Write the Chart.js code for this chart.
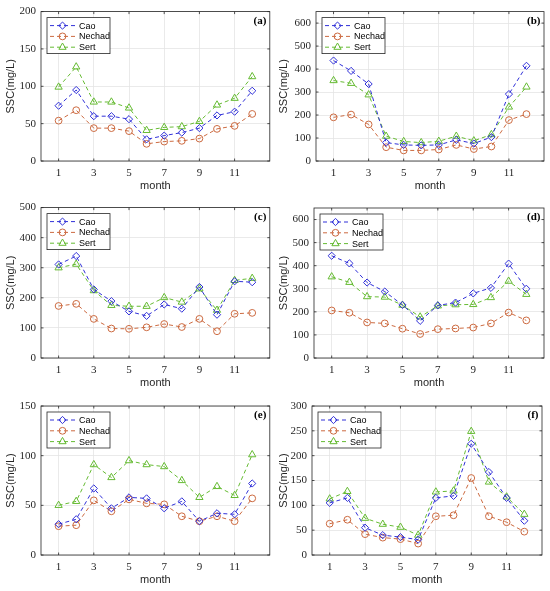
<!DOCTYPE html>
<html>
<head>
<meta charset="utf-8">
<script src="https://cdn.jsdelivr.net/npm/chart.js"></script>
<style>
  html, body { margin: 0; padding: 0; background: #fff; }
  #wrap { position: relative; width: 550px; height: 591px; }
  .panel { position: absolute; }
</style>
</head>
<body>
<div id="wrap"></div>
<script>
// ---- data ----
const months = [1, 2, 3, 4, 5, 6, 7, 8, 9, 10, 11, 12];
const xTicks = [1, 3, 5, 7, 9, 11];
const seriesNames = ["Cao", "Nechad", "Sert"];
const panelLabels = ["(a)", "(b)", "(c)", "(d)", "(e)", "(f)"];

const yTicksA = [0, 50, 100, 150, 200];
const yTicksB = [0, 100, 200, 300, 400, 500, 600];
const yTicksC = [0, 100, 200, 300, 400, 500];
const yTicksD = [0, 100, 200, 300, 400, 500, 600];
const yTicksE = [0, 50, 100, 150];
const yTicksF = [0, 50, 100, 150, 200, 250, 300];
const yMax = [200, 650, 500, 650, 150, 300];

const caoA    = [74, 95, 60, 60, 56, 29, 34, 38, 44, 61, 66, 94];
const nechadA = [54, 68, 44, 44, 40, 23, 26, 27, 30, 43, 47, 63];
const sertA   = [99, 126, 79, 79, 71, 41, 45, 46, 53, 75, 84, 113];

const caoB    = [437, 392, 335, 80, 70, 68, 70, 92, 76, 104, 291, 414];
const nechadB = [190, 202, 159, 60, 46, 46, 50, 70, 52, 63, 178, 204];
const sertB   = [350, 338, 288, 108, 85, 80, 86, 108, 88, 115, 235, 322];

const caoC    = [311, 339, 228, 189, 155, 140, 178, 164, 236, 144, 255, 252];
const nechadC = [173, 180, 130, 98, 97, 102, 113, 103, 130, 89, 147, 150];
const sertC   = [300, 312, 224, 175, 172, 172, 201, 186, 230, 159, 258, 265];

const caoD    = [443, 410, 327, 288, 230, 161, 228, 240, 280, 304, 409, 300];
const nechadD = [206, 196, 154, 150, 127, 104, 125, 128, 132, 150, 197, 163];
const sertD   = [352, 328, 266, 264, 229, 178, 226, 231, 232, 262, 333, 276];

const caoE    = [31, 36, 67, 47, 58, 57, 47, 54, 34, 42, 41, 72];
const nechadE = [29, 30, 55, 44, 56, 52, 51, 39, 34, 39, 34, 57];
const sertE   = [50, 54, 91, 78, 95, 91, 89, 75, 58, 69, 60, 101];

const caoF    = [105, 115, 55, 40, 36, 31, 115, 119, 224, 167, 115, 69];
const nechadF = [63, 71, 42, 35, 32, 23, 78, 80, 155, 78, 66, 47];
const sertF   = [113, 128, 74, 62, 56, 40, 127, 129, 249, 147, 117, 82];

const panelSeries = [
  [caoA, nechadA, sertA],
  [caoB, nechadB, sertB],
  [caoC, nechadC, sertC],
  [caoD, nechadD, sertD],
  [caoE, nechadE, sertE],
  [caoF, nechadF, sertF]
];
const panelYTicks = [yTicksA, yTicksB, yTicksC, yTicksD, yTicksE, yTicksF];

// ---- styles / layout ----
const colors = ["#3030d8", "#cc6a40", "#66bb33"];
const pointStyles = ["rectRot", "circle", "triangle"];
const pointSizes = [3.6, 3.4, 4.2];
const axisColor = "#262626";
const gridColor = "#e4e4e4";

// canvas box and plot area box, in page pixels
const panelBoxes = [
  { x: 0,   y: 0,   w: 275, h: 196, l: 41,  t: 10,  r: 270, b: 161, tp: 4.4 },
  { x: 275, y: 0,   w: 275, h: 196, l: 316, t: 11,  r: 544, b: 161, tp: 2.6 },
  { x: 0,   y: 196, w: 275, h: 196, l: 41,  t: 205, r: 270, b: 358, tp: 4.4 },
  { x: 275, y: 196, w: 275, h: 196, l: 314, t: 208, r: 544, b: 358, tp: 2.6 },
  { x: 0,   y: 392, w: 275, h: 199, l: 41,  t: 406, r: 270, b: 555, tp: 4.4 },
  { x: 275, y: 392, w: 275, h: 199, l: 312, t: 406, r: 542, b: 555, tp: 2.6 }
];

function drawMarker(ctx, style, x, y, r) {
  ctx.beginPath();
  if (style === "circle") {
    ctx.arc(x, y, r, 0, Math.PI * 2);
  } else if (style === "rectRot") {
    ctx.moveTo(x, y - r); ctx.lineTo(x + r, y); ctx.lineTo(x, y + r); ctx.lineTo(x - r, y);
    ctx.closePath();
  } else {
    const s = r * Math.sqrt(3);
    ctx.moveTo(x, y - r); ctx.lineTo(x + s / 2, y + r / 2); ctx.lineTo(x - s / 2, y + r / 2);
    ctx.closePath();
  }
  ctx.stroke();
}

function framePlugin(label) {
  return {
    id: "frame",
    afterDraw(chart) {
      const { ctx, chartArea: a, scales } = chart;
      ctx.save();
      // box
      ctx.strokeStyle = axisColor;
      ctx.lineWidth = 0.8;
      ctx.setLineDash([]);
      ctx.strokeRect(a.left, a.top, a.right - a.left, a.bottom - a.top);
      // inward ticks
      ctx.beginPath();
      scales.x.ticks.forEach(t => {
        const px = scales.x.getPixelForValue(t.value);
        ctx.moveTo(px, a.bottom); ctx.lineTo(px, a.bottom - 2.5);
        ctx.moveTo(px, a.top); ctx.lineTo(px, a.top + 2.5);
      });
      scales.y.ticks.forEach(t => {
        const py = scales.y.getPixelForValue(t.value);
        ctx.moveTo(a.left, py); ctx.lineTo(a.left + 2.5, py);
        ctx.moveTo(a.right, py); ctx.lineTo(a.right - 2.5, py);
      });
      ctx.stroke();

      // panel label
      ctx.fillStyle = "#000";
      ctx.font = 'bold 11px "Liberation Serif"';
      ctx.textAlign = "right";
      ctx.textBaseline = "middle";
      ctx.fillText(label, a.right - 3.5, a.top + 9.5);

      // legend
      const lx = a.left + 6, ly = a.top + 6;
      ctx.fillStyle = "#fff";
      ctx.fillRect(lx, ly, 63, 36);
      ctx.strokeStyle = axisColor;
      ctx.lineWidth = 0.8;
      ctx.strokeRect(lx, ly, 63, 36);
      ctx.font = '9px "Liberation Sans"';
      ctx.textAlign = "left";
      chart.data.datasets.forEach((ds, k) => {
        const y = ly + 8 + k * 10.8;
        ctx.strokeStyle = colors[k];
        ctx.lineWidth = 1;
        ctx.setLineDash([4, 3]);
        ctx.beginPath();
        ctx.moveTo(lx + 3, y); ctx.lineTo(lx + 28, y);
        ctx.stroke();
        ctx.setLineDash([]);
        drawMarker(ctx, pointStyles[k], lx + 15.5, y, pointSizes[k]);
        ctx.fillStyle = "#000";
        ctx.fillText(ds.label, lx + 32, y + 0.5);
      });
      ctx.restore();
    }
  };
}

const wrap = document.getElementById("wrap");

panelBoxes.forEach((p, i) => {
  const div = document.createElement("div");
  div.className = "panel";
  div.style.left = p.x + "px";
  div.style.top = p.y + "px";
  div.style.width = p.w + "px";
  div.style.height = p.h + "px";
  const canvas = document.createElement("canvas");
  div.appendChild(canvas);
  wrap.appendChild(div);

  const yTicks = panelYTicks[i];
  const xAxisHeight = p.y + p.h - p.b;
  const yAxisWidth = p.l - p.x;

  new Chart(canvas, {
    type: "line",
    data: {
      datasets: panelSeries[i].map((vals, k) => ({
        label: seriesNames[k],
        data: months.map((m, j) => ({ x: m, y: vals[j] })),
        borderColor: colors[k],
        borderWidth: 1,
        borderDash: [4, 3],
        fill: false,
        tension: 0,
        pointStyle: pointStyles[k],
        pointRadius: pointSizes[k],
        pointBorderColor: colors[k],
        pointBackgroundColor: "rgba(255,255,255,0)",
        pointBorderWidth: 1
      }))
    },
    options: {
      responsive: true,
      maintainAspectRatio: false,
      animation: false,
      layout: {
        padding: { left: 0, top: p.t - p.y, right: p.x + p.w - p.r, bottom: 0 }
      },
      plugins: {
        legend: { display: false },
        tooltip: { enabled: false }
      },
      scales: {
        x: {
          type: "linear",
          min: 0,
          max: 13,
          afterBuildTicks: s => { s.ticks = xTicks.map(v => ({ value: v })); },
          afterFit: s => { s.height = xAxisHeight; },
          grid: { color: gridColor, drawTicks: false, lineWidth: 0.8 },
          border: { display: false },
          ticks: {
            autoSkip: false,
            maxRotation: 0,
            padding: 5.4,
            color: axisColor,
            font: { family: '"Liberation Serif"', size: 11 }
          },
          title: {
            display: true,
            text: "month",
            color: axisColor,
            font: { family: '"Liberation Sans"', size: 11 },
            padding: { top: 0, bottom: xAxisHeight - 25 - 6.6 }
          }
        },
        y: {
          min: 0,
          max: yMax[i],
          afterBuildTicks: s => { s.ticks = yTicks.map(v => ({ value: v })); },
          afterFit: s => { s.width = yAxisWidth; },
          grid: { color: gridColor, drawTicks: false, lineWidth: 0.8 },
          border: { display: false },
          ticks: {
            padding: 5,
            color: axisColor,
            font: { family: '"Liberation Serif"', size: 11 }
          },
          title: {
            display: true,
            text: "SSC(mg/L)",
            color: axisColor,
            font: { family: '"Liberation Sans"', size: 11 },
            padding: { top: p.tp, bottom: 0 }
          }
        }
      }
    },
    plugins: [framePlugin(panelLabels[i])]
  });
});
</script>
</body>
</html>
